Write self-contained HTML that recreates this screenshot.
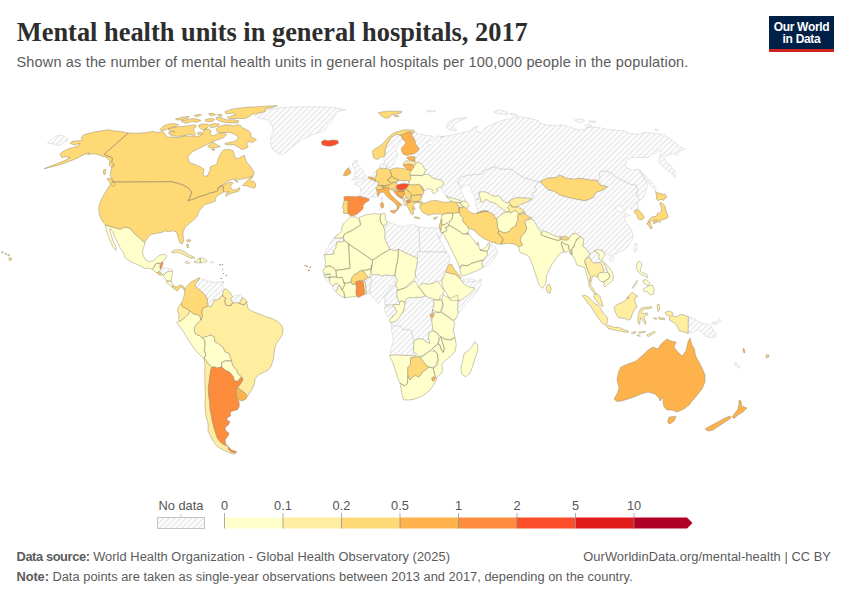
<!DOCTYPE html>
<html><head><meta charset="utf-8">
<style>
html,body{margin:0;padding:0;background:#fff;}
body{width:850px;height:600px;position:relative;overflow:hidden;font-family:"Liberation Sans",sans-serif;}
#title{position:absolute;left:16.8px;top:16.5px;font-family:"Liberation Serif",serif;font-weight:bold;font-size:26.4px;color:#2d2d2d;white-space:nowrap;line-height:30px;letter-spacing:0px;}
#sub{position:absolute;left:16.5px;top:52.7px;font-size:14.5px;letter-spacing:0.165px;color:#5b5b5b;white-space:nowrap;line-height:18px;}
#logo{position:absolute;left:769px;top:16px;width:65px;height:33px;background:#002147;border-bottom:3px solid #ce261e;color:#fff;font-weight:bold;font-size:12px;line-height:12px;text-align:center;letter-spacing:-0.3px;}
#logo div{padding-top:5px;}
.ft{position:absolute;font-size:12.85px;color:#5b5b5b;white-space:nowrap;line-height:16px;}
.ft b{font-weight:bold;}
svg{position:absolute;left:0;top:0;}
</style></head><body>
<div id="title">Mental health units in general hospitals, 2017</div>
<div id="sub">Shown as the number of mental health units in general hospitals per 100,000 people in the population.</div>
<div id="logo"><div>Our World<br>in Data</div></div>
<svg width="850" height="600" viewBox="0 0 850 600">
<defs>
<pattern id="hatch" patternUnits="userSpaceOnUse" width="4" height="4" patternTransform="rotate(45)"><rect width="4" height="4" fill="#fff"/><line x1="2" y1="-1" x2="2" y2="5" stroke="#dcdcdc" stroke-width="1"/></pattern>
</defs>
<g id="map">
<path d="M255,115.8L260,112.5L270,109.2L283.3,107.5L300,106.7L320,106.7L333.3,107.5L345.8,109.7L336.7,111.7L334.2,116.7L331.7,121.7L328.3,125L325,129.2L321.7,131.7L316.7,133.3L310,135.8L303.3,139.2L296.7,143.3L291.7,147.5L286.7,151.7L281.7,155L276.7,152.5L272.5,149.2L270.3,143.3L270.8,137.5L273.3,131.7L272.5,126.7L270,121.7L265.8,119.2L258.3,118.3ZM161.3,268.3L163.3,268L166.7,268L170,268.7L172.7,270.7L170.7,271.3L168,271.7L166,273L164.3,274.7L163,275.3L162.3,274.3L161.3,273.3L160,272.3L158.7,272L160,270.3ZM210,261.7L213.7,261.7L213.3,263L210.3,263ZM199.7,278L198.3,280.8L195.8,283.3L195,285.8L197.5,288.3L200.8,290.8L205,295L207.5,299.2L207.2,303.3L208.3,305.8L210.8,307L213,303.3L214.2,300L216.7,300L220,298.3L222.5,295L223.3,290.8L225,288.7L222.5,285.8L223.3,282.5L220,281.7L214.2,282.5L208.3,281.3L203.3,279.2ZM232.5,296.7L230.8,299.2L232.5,302.5L233.3,303.3L235.8,302.5L239.2,303.3L240.8,300.8L242.5,297.5L240.8,295.3L235.8,295ZM348.3,167.9L350,167.5L351.2,169.2L350.4,170.8L348.8,170ZM352.5,165L353.3,161.7L355.8,160L357.9,160.8L357.1,163.3L357.9,165L360.4,167.5L362.1,170L363.8,172.5L365,174.2L365.8,176.2L364.6,177.5L362.5,178.2L360,178.8L356.7,179.6L353.8,180L351.7,179.3L354.6,177.5L356.2,176.7L353.3,176.2L355.4,174.2L354.6,172.1L355.8,170.8L354.2,168.3L352.9,166.7ZM367.9,177.3L366.7,178.8L364.2,180L362.1,179.6L361.2,181.2L358.8,181.7L355.8,182.5L353.8,183.8L356.2,185L358.8,185.8L360.4,187.9L360.8,190.8L360,194.2L359.6,196.2L362.5,197.1L365.8,197.9L368.8,198.8L370.4,197.1L373.3,196.7L375.8,197.5L377.9,196.2L377.1,194.2L377.5,192.1L376.7,190L375.8,188.8L377.1,187.1L378.3,185.4L377.9,183.8L379.2,182.1L377.1,181.5L375,180.8L373.3,180L371.2,179.8L369.2,178.3ZM381.2,197.9L382.5,197.5L382.7,200.8L381.7,202.1L381,200.4ZM372.1,177.5L372.5,175.4L373.8,172.9L375.8,172.1L377.1,172.9L376.2,175.8L375.4,178.3L375.4,180.4L373.8,178.3ZM379.2,168.8L379.6,165.8L380.8,164.2L382.9,162.9L383.8,165L382.9,167.5L380.8,167.9ZM385,166.2L387.5,165.8L387.9,167.5L385.8,167.9ZM394.2,182.5L397.1,181.7L398.3,180L401.7,180.4L405,180.8L407.5,180.4L408.8,182.1L408.8,184.6L406.2,183.8L403.3,183.8L400.8,184L398.3,184.6L397.5,185L396.7,183.3ZM385,148.8L386.2,146.7L387.1,144.2L388.8,141.7L390,138.8L391.7,137.1L394.2,135.8L396.7,134.2L398.3,134.6L400.8,135.4L402.5,138.8L401.7,140.8L400.4,142.9L398.3,145L397.1,147.5L395.8,150.4L397.1,152.9L397.9,155.4L396.7,158.3L394.6,161.2L393.3,164.6L390.8,167.1L387.9,168.3L386.2,166.7L384.6,163.3L383.8,160L383.8,157.1L385,155L385.4,152.1ZM406.2,197.9L407.9,198.3L408.8,199.8L406.7,200.4L405.8,199.3ZM426.5,110.8L435.3,110.6L434.7,111.8L427.6,111.8ZM334.2,237.9L343.3,237.9L343.8,239.6L343.3,241.7L336.7,242.1L335.8,248.3L333.8,250L333.8,254.2L324.2,254.8L325.8,250.8L328.3,246.7L330.8,241.7L332.9,239.2ZM385.8,225L387.5,221.7L391.7,223.3L398.3,225.8L405,226.7L408.3,225L413.3,224.7L418.3,226.7L419.2,231.7L420,251.7L417.5,251.7L417.5,258.3L408.3,254.2L398.3,249.2L395,250.8L390,249.2L389.2,247.5L386.7,243.3L384.7,238.3L385,231.7L383.3,225.8ZM418.3,226.7L425,228L431.7,227.5L436.7,228.3L439.2,228L441.7,235L440,239.2L438,235L439.2,239.2L441.7,243.3L444.2,247.5L446.7,251.7L445,252L420,251.7L419.2,231.7ZM420,251.7L445,252L446.7,251.7L449.2,255.8L450,260L448.3,265L445.8,271.7L443.3,276.7L441.7,281.7L439.2,280L436.7,284.2L431.7,283.3L428.3,285L425,283.3L421.7,284.2L418.3,281.7L415.8,276.7L415,271.7L416.7,266.7L417.5,258.3L417.5,251.7ZM323.8,274.2L325.8,274L330.8,273.8L330.8,274.8L325.8,275L323.8,275ZM325,277.3L327.9,277.5L330.4,277.7L329.6,279.6L327.5,280.4L325.4,279.2ZM332.5,286.2L333.8,284.6L335.4,283.3L337.9,283.8L338.3,286.2L337.5,289.2L335.8,291.7L333.8,290L332.5,288.3ZM364.2,280.8L366.7,278.8L367.9,277.1L370,277.5L371.7,279.2L370.8,283.3L370,288.3L369.6,293.3L366.7,293.8L366.2,292.9L365.8,288.3L365.4,283.3ZM370.8,276.7L372.5,275L376.7,274.2L381.7,275.8L386.7,275L391.7,275.8L395,275L395.8,285L394.2,285L390.8,288.3L386.7,293.3L383.8,296.7L382.5,297.9L378.3,303.3L375,299.2L371.7,296.7L369.2,293.3L370,286.7L371.7,280.8ZM395.8,285L397.5,282.5L398.8,285L397.5,290L396.7,294.2L397.5,298.3L399.2,301.7L399.6,304.6L393.3,304.6L386.7,305L384.6,304.2L385,300.8L383.8,296.7L386.7,293.3L390.8,288.3L394.2,285ZM460,278.3L461.7,277L463.7,279.2L462.5,281.7L463.3,283.3ZM385.4,305L388.3,304.8L388.3,307.1L385.4,307.1ZM386.7,305L393.3,304.6L393.3,306.7L395,307.5L395.8,309.2L396.7,312.1L395,314.6L392.1,315.8L392.5,317.5L390,318.8L387.9,316.7L385.8,313.3L384.2,310L385,306.7ZM405.8,300L407.5,297.9L410,297.5L413.3,297.9L416.7,297.1L420,297.5L423.3,296.7L425,295.4L428.3,297.5L431.7,298.3L433.3,300.8L434.2,304.2L433.3,307.5L432.1,311.7L430.8,315L431.7,319.2L432.5,323.3L432.5,326.7L433.3,330.8L429.2,332.5L428.3,337.5L430,343.3L426.7,342.5L423.3,339.2L418.3,338.7L414.2,340.8L412.5,336.7L411.7,330.8L407.5,329.2L403.3,330L400,325.8L391.7,325.8L390.8,325L391.2,322.9L390.8,322.5L394.2,321.7L396.7,320.8L398.3,318.3L400.4,315.8L402.1,313.3L403.8,310L404.6,305.8L405,302.5ZM391.7,325.8L400,325.8L403.3,330L407.5,329.2L411.7,330.8L412.5,336.7L414.2,340.8L413.7,344.2L413.3,351.7L416.7,354.2L414.2,355.3L401.7,355L390,355L390.8,348.3L393.3,341.7L392.5,335L391.3,330ZM430.8,317.5L432.9,317.5L433.3,320L431.7,321.2ZM457.5,295L461.7,290.8L468.3,288.3L475,280L468.3,278.3L463.3,280.8L465.8,282.5L475,281.7L481.7,279.2L480.8,285L475,295L468.3,301.7L461.7,309.2L458.3,313.3L457.5,308.3L458.3,300ZM422.9,387.9L425.8,385L428.3,385.8L427.5,387.9L425,389.8ZM413.8,130.4L414.7,132.4L419.4,134.1L425.3,135.3L431.2,135.9L434.1,137.6L432.4,140.6L428.2,141.2L426.5,142.9L430,145.3L433.5,142.4L435.9,138.8L437.6,135.3L440.6,137.6L445.3,136.5L440,136.7L446.7,135.8L455,134.2L463.3,132.5L470,130.8L473.3,127.5L478.3,125.8L475.8,130.8L481.7,133.3L485,128.3L490,125L496.7,122.5L503.3,120L510,118.7L515,117.5L520,116.7L525,117.5L531.7,118.7L538.3,120.8L540,123.3L546.7,125L556.7,125.8L560,124.7L566.7,125.8L573.3,128.3L580,130L585,129.2L590,126.7L598.3,127.5L606.7,129.2L615,130.3L623.3,130.8L630,133.3L638.3,134.2L645,132.5L653.3,133.3L661.7,134.2L668.3,137.5L675,142.5L680,146.7L685.3,149.2L680,150.8L676.7,155.8L673.3,153.3L668.3,155L663.3,156.7L666.7,162.5L671.7,166.7L675,171.7L675,177.5L671.7,173.3L666.7,170L661.7,165L658.3,161.7L660,156.7L660.8,151.7L658.3,150L655.8,153.3L650.8,154.2L648.3,157.5L645,157.5L640,157.5L631.7,157.5L626.7,160L625,166.7L631.7,170L638.3,169.2L641.7,173.3L645,178.3L647.5,185L645.8,191.7L643.3,197.5L640,200.8L638.3,198.3L637.5,195.8L636.7,195.8L637.5,190L635.8,185L630,184.2L623.3,180.8L616.7,177.5L611.7,173.3L605,170.8L599.2,172.5L600,178.3L597.5,180.3L590,180L580,178.3L573.3,179.2L566.7,178.3L559.2,175L556.7,177.5L546.7,178.3L540,181.7L538.3,181.7L531.7,180L523.3,177.5L516.7,173.3L511.7,169.2L501.7,169.2L495,166.7L485,170L481.7,174.2L470,175L461.7,176.7L457.5,181.7L458.3,184.2L461.7,187.5L460.8,190.4L461.7,192.9L463.3,195.8L465,199.2L466.7,202.1L464.2,201.2L461.7,201.7L460,200.4L456.7,199.6L453.3,198.3L450,197.5L446.2,196.2L443.3,191.7L440.8,187.9L440.4,187.1L442.9,185.4L443.8,182.9L441.7,180.4L438.3,179.6L435,178.8L431.7,177.5L430,175L426.7,174.6L423.8,174.2L424.6,172.1L426.2,170.4L423.8,167.5L422.5,165L416,163.3L415,161.4L414.6,159.2L415,157.1L418.3,153.3L417.1,151.7L419.2,148.8L417.1,146.2L415.4,143.8L415,140.8L413.3,137.5L411.7,135L411.2,132.5L412.9,133.3L414.6,132.1ZM446.5,125.3L448.8,121.8L454.7,118.8L464.1,117.6L467.1,118.2L459.4,120.6L454.7,123.5L452.4,127.6L457.1,130.6L452.4,130.8L447.6,128.8ZM493.3,111.7L498.3,110L506.7,111.7L508.3,114.2L500,114.2L495,113ZM510,113.3L516.7,114.2L517.5,115.8L511.7,115.3ZM574.2,120L580,118.7L585,120L581.7,122.5L576.7,122ZM588.3,120.8L595.8,121.3L595.8,122.5L589.2,122.2ZM585,125L590,124.2L591.7,126.7L586.7,127.5ZM655,129.2L658.3,130L658,131L655.3,130.3ZM639.2,169.2L643.3,173.3L648.3,179.2L653.3,184.2L655.8,188.3L655,190L650.8,185.8L645.8,180L641.7,175ZM47.5,143.3L53.3,137.5L59.2,135L64.2,135.8L68.3,140L63.3,142.5L59.2,145.8L55,144.2L50.8,143.3ZM457.5,181.7L461.7,176.7L470,175L481.7,174.2L485,170L495,166.7L501.7,169.2L511.7,169.2L516.7,173.3L523.3,177.5L531.7,180L538.3,181.7L535,186.7L536.7,190L531.7,193.3L533.3,195.8L531.7,199.2L528.3,198.2L522.5,197.9L516.7,197.5L513.3,198.8L510.4,200L509.2,202.5L506.7,202.9L504.2,201.7L502.1,200L500.8,197.5L498.3,195.8L495,196.2L491.7,195.8L489.2,193.8L485.8,192.1L481.7,191.7L478.8,192.9L478.3,199.2L475.8,200L475,198.3L473.3,194.6L470.4,191.2L471.7,188.8L470.4,186.2L467.5,185L464.2,185.8L461.7,187.5L458.3,184.2ZM538.3,181.7L540,181.7L543.3,185L548.3,190L553.3,190.8L560,195L568.3,197.5L576.7,199.2L585,200.8L593.3,197.5L595.8,192.5L602.5,190L607.5,186.7L600,185L600,178.3L599.2,172.5L605,170.8L611.7,173.3L616.7,177.5L623.3,180.8L630,184.2L635.8,185L637.5,190L636.7,195.8L637.5,195.8L631.7,202.5L627.5,206.7L626.7,208.3L624.2,211.7L620,205L615,208.3L617.5,210.8L622.5,212.5L626.7,214.2L630,215.3L624.2,217.5L626.7,223.3L631.7,230L633.3,235L631.7,240.8L628.3,245.8L624.2,250L618.3,252.5L613.3,255L610,255.8L607.5,254.2L605,251.7L600,250L595.8,250.8L594.2,251.7L597.5,249.6L594.2,250.8L592.5,251.7L590.4,253.8L588.3,252.5L587.1,250L585,247.9L582.5,246.2L583.3,243.3L583.8,240L582.1,237.1L580,236.7L578.3,235L575.8,233.2L572.5,234.2L570,236.7L568.8,238.3L567.1,237.1L563.8,236.2L561.7,237.1L560.8,236.2L560,237.1L556.7,236.7L551.7,234.6L546.7,232.1L542.9,230.8L538.3,228.3L535,225L535.8,224.2L533.3,220L530.8,219.2L531.7,217.5L528.3,216.7L525,213.7L524.2,212L523.3,210L520,208.3L523.3,203.7L525.8,202.5L529.2,200.8L531.7,199.2L533.3,195.8L531.7,193.3L536.7,190L535,186.7ZM609.2,259.2L610.9,257.1L613.4,256.7L614.2,258.8L612.6,261.2L610.5,262.1ZM634.7,244.2L636.7,243.3L637,248.3L635.3,252.5L633.7,249.2ZM629.6,207.5L632.1,205.4L634.6,203.3L636.7,200.8L637.9,199.2L639.6,200L637.9,202.1L637.5,204.6L638.3,206.7L637.9,209.6L636.2,210L634.6,211.2L632.5,210L630.8,209.2ZM489.6,244.2L491.7,245L495,246.7L496.7,250L497.5,253.3L493.3,260L488.3,265L483.3,267.5L481.7,263.3L483.3,260L487.5,255L487.5,255L487.5,251.2L488.8,247.5ZM478.3,199.2L475.8,200L475,203.8L476.7,206.7L477.5,210L478.3,212.5L481.7,211.2L485,210.8L490,212.5L494.2,215L495,218.3L496.7,218.3L499.2,216.7L501.7,214.2L504.2,212.9L506.7,212.1L504.2,210.4L501.7,208.3L499.2,206.7L496.7,204.2L493.3,202.5L490,201.7L487.5,200L485,199.6L483.3,201.7L481.2,202.1L480.4,199.2L477.5,198.3ZM590.4,253.8L592.5,251.7L594.2,250.8L596.7,252.5L599.2,254.2L598.8,257.5L600.1,260L603,262.5L605.5,265.8L606.8,269.2L607.2,272.1L605.5,272.9L603.8,270.8L603,268.3L602.2,265.4L600.5,262.9L598,262.5L594.2,263.3L591.8,261.7L590.5,259.2L589.2,257.1L588.3,255.8ZM688.3,316.7L695,319.2L701.7,323.3L706.7,324.2L710,325L713.3,330L716.7,335L715,337.5L710,337.5L705,335.8L701.7,331.7L696.7,330L692.5,332.5L688,333.3ZM711.7,322.5L716.7,321.7L720,319.2L720.8,320.8L717.5,323.7L712.5,324.2ZM734,363L736,362L740,367L739,368.4L735.6,365.6ZM221.5,281.6L223.6,281.3L223.4,283L221.6,283.2Z" fill="url(#hatch)" stroke="#d2d2d2" stroke-width="0.55" stroke-linejoin="round"/>
<path d="M105.3,225L114.2,227.5L120,229.2L125,227L130,228.3L134.2,233.3L139.2,237.5L143.3,241.7L145,242L144.2,245.8L142.5,250.8L143.3,255.8L145.8,260L149.2,261.7L153.3,260.8L156.7,257.5L160,255L164.2,254.2L166.7,255.8L165,259.2L162.3,261.7L161,263L160,263.3L156.3,263.3L155,265L154,267.3L152.3,269.3L148.3,268L145,268.7L140,265.8L134.2,263.3L129.2,260.8L125,257.5L123.3,252.5L120,247.5L117.5,242.5L114.7,236.7L112.5,231.7L110.3,228.3L109.7,230.8L111.7,236.7L113.7,242.5L116.3,247.5L115.8,250.3L113.3,247.5L110.8,242.5L108.7,236.7L106.7,231.7ZM152.3,269.3L154,267.3L155,265L156.3,263.3L160,263.3L160,267.7L160.3,268.3L161.3,268.3L160,270.3L158.7,272L157,272.7L154.7,271.7ZM163,275.3L164.3,274.7L166,273L168,271.7L170.7,271.3L172.7,270.7L172.3,273.7L171.7,277L171,280.7L169.3,281.3L167,280.7L165.7,279L164.3,277.3ZM166,281L167,280.7L169.3,281.3L171,280.7L172,283L173,285.3L172.7,287.7L171.3,286.3L169.7,285L167.7,284L166.3,282.7ZM185,262L186.3,261.3L188.7,261.7L189.7,263L188,263.7L186,263.3ZM193.8,261.7L196.7,261.2L197.9,258.8L200,258.3L200.4,262.9L198.8,262.7L195.8,262.7ZM200,258.3L202.5,257.9L205,259.3L207.3,261.2L205.8,262.3L203.3,262.1L201.7,262.9L200.4,262.9ZM180,321.3L181.7,320L185,317.5L188.3,314.2L190,310.8L193.3,313.7L197.5,314.7L200.3,316.7L200.8,320L197.5,323.3L195,326.7L194.2,330.8L195.8,334.2L200,335.8L201.7,337.5L204.7,340L205,345L204.2,350L205.8,355L204.2,358.3L201.7,356.7L196.7,351.7L191.7,345L187.5,338.3L183.3,331.7L179.2,325.8L176.7,322.5L178.3,320.8ZM201.7,337.5L205.8,336.7L208.3,335.8L210.8,335L214.2,336.7L215,341.7L219.2,344.2L223.3,347.5L225,351.7L229.2,353.3L230.8,358.3L231.7,360.8L225,360.8L221.7,362.5L221.7,367L216.7,368L214.2,366.7L211.7,367.5L210,365L207.5,363.3L205.8,360L204.2,358.3L205.8,355L204.2,350L205,345L204.7,340L201.7,337.5ZM221.7,367L221.7,362.5L225,360.8L231.7,360.8L232.5,365L236.7,370L238.3,374.2L241.7,376.7L243,379.2L240.8,377.5L237.5,381.3L234.2,380.8L233.3,376.7L230,372.5L225,370L221.7,367ZM391.7,189.2L394.2,188.8L396.7,187.9L397.5,188.8L395.8,190L393.8,190.8L391.7,190.4ZM413.3,165L415.4,162.9L418.8,162.1L422.5,165L423.8,167.5L426.2,170.4L424.6,172.1L423.8,174.2L422.5,175.8L419.2,175.4L415.8,175.2L412.9,175.4L410.8,175L409.6,173.3L409.2,170.8L411.7,169.2L413.8,167.1ZM410.8,175L412.9,175.4L415.8,175.2L419.2,175.4L422.5,175.8L423.8,174.2L426.7,174.6L430,175L431.7,177.5L435,178.8L438.3,179.6L441.7,180.4L443.8,182.9L442.9,185.4L440.4,187.1L437.5,188.3L435.8,189.2L438.3,190.4L436.7,191.7L433.8,193.8L431.7,191.7L432.9,190L430.8,189.2L428.3,188.8L426.2,189.2L425,190.8L423.3,189.6L422.5,187.1L420.8,185.4L418.8,184.3L416.7,184.6L414.2,185L411.7,185L409.6,184.6L408.8,182.1L408.8,180.4L409.6,177.5ZM420.8,185.4L422.5,187.1L423.3,189.6L424.2,190.4L422.9,190.8L421.7,188.8L420,186.2ZM403.8,200.4L405,199.6L405.8,200.8L406.2,203.3L405.4,205.8L404.2,205L403.8,202.5ZM446.2,196.2L450,197.5L453.3,198.3L456.7,199.6L460,200.4L461.7,201.7L460,202.9L457.5,202.5L455.8,202.9L453.3,202.1L450.8,200.8L448.3,198.8ZM455.8,202.9L457.5,202.5L460,202.9L461.7,205L462.9,207.1L461.7,207.9L459.6,206.7L457.9,205.4L456.7,204.2ZM460,202.9L461.7,201.7L464.2,201.2L466.7,202.1L468.3,204.2L469.2,206.2L467.5,206.7L466.7,208.8L465.4,207.9L464.2,206.7L462.9,207.1L461.7,205ZM459.6,207.1L461.7,208.3L461.2,209.2L459.3,208.2ZM350,216.7L352.5,217.1L355.4,216.7L358.3,218.3L359.6,221.2L360.4,224.6L357.5,226.7L355,228.8L351.7,231.2L348.3,232.5L345,233.8L343.3,235.4L343.3,237.9L334.2,237.9L335.8,235.8L339.2,233.8L341.7,230.8L341.7,227.5L343.8,223.3L346.7,220.8L349.2,218.3ZM359.2,217.5L365,215L373.3,213.7L380.8,214.2L380,218.3L380.8,222.5L383.3,225.8L385,231.7L384.7,238.3L386.7,243.3L389.2,247.5L390,249.2L381.7,254.2L373.3,259.7L370.8,259.2L366.7,255.8L360,251.7L350,245L344.2,240.8L343.3,238.3L344.2,235L346.7,232.5L351.7,230L356.7,227.5L360.8,225L360,220.8ZM380.8,214.2L384.2,213L385.8,215.8L385,219.2L387.5,221.7L385.8,225L383.3,225.8L380.8,222.5L380,218.3ZM398.3,249.2L408.3,254.2L417.5,258.3L416.7,266.7L415,271.7L415.8,276.7L413.3,280.8L408.3,284.2L405,288.3L400.8,289.2L397.5,290L395.8,285L397.5,280L395,275L395.8,268.3L397.5,261.7L398.3,255ZM373.3,259.7L381.7,254.2L390,249.2L395,250.8L398.3,249.2L398.3,255L397.5,261.7L395.8,268.3L395,275L391.7,275.8L386.7,275L381.7,275.8L376.7,274.2L372.5,275L370.8,270.8L371.7,265L370,277.5L367.9,277.1L365.4,274.2L363.3,271.2L363.3,270.4L366.7,270L371.2,268.8L372.1,265L372.5,260.4ZM324.2,254.8L333.8,254.2L333.8,250L335.8,248.3L336.7,242.1L343.3,241.7L343.8,239.2L348.8,243.8L348.8,248.3L349.2,255L350,268.3L335.8,270.4L334.2,268.8L331.7,266.7L328.3,265.8L325.4,267.5L325,265L325.4,261.7L325,258.3ZM348.8,243.8L360,251.7L371.7,260L372.5,260.4L372.1,265L371.2,268.8L366.7,270L363.3,270.4L360.8,270L357.5,272.9L354.2,274.6L352.1,277.5L351,281.7L349.2,282.5L346.7,283.3L343.8,282.5L342.9,279.2L341.7,277.1L338.8,277.9L336.7,277.1L336.2,274.2L335.8,270.4L350,268.3L349.2,255L348.8,248.3ZM325.4,267.5L328.3,265.8L331.7,266.7L334.2,268.8L335.8,270.4L336.2,274.2L336.7,277.1L334.2,276.8L330.8,277.1L327.9,277.5L325,277.3L323.8,275L325.8,275L330.8,274.8L330.8,273.8L325.8,274L323.3,272.9L322.9,270.8L324.2,268.8ZM327.9,277.5L330.8,277.1L334.2,276.8L336.7,277.1L338.8,277.9L341.7,277.1L342.9,279.2L343.8,282.5L344.6,284.6L343.3,287.9L342.1,290L340.8,287.5L339.6,285.4L337.9,283.8L335.4,283.3L333.8,284.6L332.5,286.2L330.8,284.2L329.2,281.7L329.6,279.6L330.4,277.7ZM335.8,291.7L337.5,289.2L338.3,286.2L339.6,285.4L340.8,287.5L342.1,290L343.8,291.7L344.6,296.7L345,297.9L342.5,297.1L339.6,295L337.1,292.9ZM343.8,282.5L346.7,283.3L349.2,282.5L351,281.7L352.1,284.2L355.8,283.8L356.5,287.5L356,291.7L356.7,296.2L353.3,296.7L349.2,297.1L345,297.9L344.6,296.7L343.8,291.7L342.1,290L343.3,287.9L344.6,284.6ZM397.9,290.4L403.3,288.3L407.5,286.7L411.7,283.3L415,280.8L416.7,283.3L418.3,286.7L421.7,290.8L425,295.4L423.3,296.7L420,297.5L416.7,297.1L413.3,297.9L410,297.5L407.5,297.9L405.8,300L405,302.5L401.7,300.8L399.6,302.1L399.2,301.7L397.5,298.3L396.7,294.2L397.5,290ZM418.3,286.7L420,285L423.3,283.3L428.3,284.2L433.3,283.3L436.7,281.2L439.2,282.5L440.8,285.8L444.2,290.8L442.5,294.2L440,296.7L440,299.6L436.7,300L434.2,299.6L431.7,298.3L428.3,297.5L425,295.4L421.7,290.8ZM441.7,281.7L443.3,276.7L445.8,271.7L450,273.3L455,274.2L460,278.3L463.3,283.3L468.3,286.7L475,288.3L468.3,295L461.7,300L455,300.8L450,300L446.7,293.3L443.3,288.3ZM399.6,302.1L401.7,300.8L405,302.5L404.6,305.8L403.8,310L402.1,313.3L400.4,315.8L398.3,318.3L396.7,320.8L394.2,321.7L390.8,322.5L389.2,321.2L390,318.8L392.5,317.5L392.1,315.8L395,314.6L396.7,312.1L395.8,309.2L395,307.5L393.3,306.7L393.3,304.6L399.6,304.6ZM414.2,340.8L418.3,338.7L423.3,339.2L426.7,342.5L430,343.3L428.3,337.5L429.2,332.5L433.3,330.8L437.5,333.3L439.2,338.3L437.5,344.2L432.5,348.3L428.3,351.7L423.3,355.8L419.2,356.7L416.7,354.2L413.3,351.7L413.7,344.2ZM432.5,310L433.3,315L431.7,320L432.5,326.7L433.3,330.8L437.5,333.3L440.8,336.7L445,339.2L450,340L455,337.5L453.3,330L455,323.3L452.5,320L446.7,315.8L441.7,312.5L436.7,311.7ZM434.2,299.6L436.7,300L440,299.6L442.1,300.8L442.5,305L441.2,309.2L440,312.5L436.7,312.5L433.3,312.9L432.1,311.7L433.3,307.5L434.2,304.2L433.3,300.8ZM441.7,299.2L443.3,295L450,298.3L457.5,295L458.3,300L457.5,308.3L458.3,313.3L455,320L452.5,320L446.7,315.8L441.7,312.5L441.7,310.8L443.3,305ZM445,339.2L450,340L455,337.5L456.3,345L455,351.7L450,356.7L445,360.8L441.7,364.2L442.5,369.2L441.7,373.3L437.5,376.7L435.8,378.3L434.2,373.3L433.3,368.3L437.5,365L438.3,360L437.5,354.2L432.5,348.3L437.5,344.2L438.3,344.2L440,345L441.3,350L443.3,352.5L444.2,348.3L442.5,342.5L440.8,336.7ZM439.2,338.3L440.8,336.7L442.5,342.5L444.2,348.3L443.3,352.5L441.3,350L440,345L438.3,344.2ZM420,357.1L422.5,355.8L426.7,353.3L430,350.8L435,351.2L437.5,354.2L437.9,359.2L436.7,363.3L435,366.2L432.9,367.9L428.8,367.1L425.8,365L424.2,362.5L422.1,360ZM389.6,355.4L395.8,355L405,355.4L412.5,355.8L415.4,355.4L416.2,356.7L410.8,357.9L410.4,365L407.9,367.5L407.9,375L407.5,383.3L405,385.8L402.5,384.6L400,383.3L397.5,377.5L395,369.2L392.5,361.7L390.4,357.9ZM400,383.3L402.5,384.6L405,385.8L407.5,383.3L407.9,375L408.8,377.5L410,380L413.3,376.7L415.4,375L418.3,377.1L420.4,375.4L422.5,372.1L425.8,369.6L428.8,367.1L432.9,367.9L434.2,370.8L435,375L435.8,377.5L436.7,379.2L435,382.5L432.5,386.7L429.2,390.8L425,394.2L420,397.1L414.2,399.2L408.3,400L403.3,399.8L402.1,395L401.2,389.2ZM475,341.7L477.5,345L478,350L475,358.3L472.5,366.7L470,373.3L465.8,376.7L461.7,374.2L460.8,368.3L462.5,361.7L464.2,353.3L468.3,350.8L472.5,345.8ZM441.7,215L445,213.8L449.2,213.3L452.9,212.9L452.5,215.8L452.1,218.8L450,221.2L446.7,223.3L444.2,225L442.1,224.6L441.7,221.7L441.2,218.3ZM442.1,224.6L444.2,225L446.7,223.3L448.8,224.6L447.9,226.7L445.4,227.5L446.7,229.6L445,231.7L441.7,232.9L440.8,230.8L441.2,227.5L441.7,225ZM452.9,212.9L455.8,212.5L458.8,212.1L460,214.2L461.7,216.7L463.3,218.3L462.5,220.4L464.2,222.9L466.7,225.4L468.3,227.9L469.2,230.8L467.5,232.5L465.8,234.2L462.5,233.8L460,231.7L456.7,229.6L453.3,227.5L450,225.8L448.8,224.6L450,221.2L452.1,218.8L452.5,215.8ZM465.8,234.2L467.5,232.5L469.2,233.8L468.3,235L467.5,233.3ZM441.7,232.9L445,231.7L446.7,229.6L445.4,227.5L447.9,226.7L448.8,224.6L450,225.8L453.3,227.5L456.7,229.6L460,231.7L462.5,233.8L465.8,234.2L467.5,233.3L469.6,235L471.7,237.5L474.2,240.8L475.8,243.8L478.3,245L479.2,247.5L480,250L483.3,250.8L486.7,251.2L487.5,255L487.5,255L483.3,260L476.7,261.7L471.7,263.3L467.5,265.8L461.7,265L460,268.3L458.3,264.2L455.8,258.3L452.5,252.5L450,246.7L446.7,240L444.2,235ZM477.1,242.5L478.3,242.1L478.8,244.6L477.5,245ZM480,250L483.3,249.2L486.7,245.8L488.8,242.5L489.6,244.2L488.8,247.5L487.5,251.2L483.3,250.8ZM460,268.3L461.7,265L467.5,265.8L471.7,263.3L476.7,261.7L483.3,260L481.7,263.3L483.3,267.5L476.7,270.8L470,273.3L464.2,275.8L460.8,275ZM478.8,192.9L481.7,191.7L485.8,192.1L489.2,193.8L491.7,195.8L495,196.2L498.3,195.8L500.8,197.5L502.1,200L504.2,201.7L506.7,202.9L509.2,202.5L510.4,204.2L508.8,206.2L507.5,207.5L509.2,209.2L508.8,211.7L506.7,212.1L504.2,210.4L501.7,208.3L499.2,206.7L496.7,204.2L493.3,202.5L490,201.7L487.5,200L485,199.6L483.3,201.7L481.2,202.1L480.4,199.2L479.6,195.8ZM496.7,218.3L499.2,216.7L501.7,214.2L504.2,212.9L506.7,212.1L508.8,211.7L510.4,212.9L512.5,211.7L515,210L517.1,212.5L519.2,213.8L521.7,212.5L524.2,212.1L525,213.8L521.7,214.2L518.3,214.6L517.5,217.5L518.3,220L516.7,222.5L515.8,225.8L511.7,228.3L509.2,231.7L504.2,233L499.2,230.8L497.5,227.5ZM526.7,220L530.8,219.2L533.3,220L535.8,224.2L538.3,228.3L541.7,232.5L541.2,234.6L543.3,235.8L548.3,237.5L553.3,239.2L557.5,240.4L560.4,240L560.4,237.1L560.8,236.2L561.7,237.1L561.8,239.2L564.2,240L567.9,239.8L568.8,238.3L570,236.7L572.5,234.2L575.8,233.2L578.3,235L580,236.7L578.3,238.8L576.7,239.2L575.8,241.7L574.6,244.2L574.2,246.7L572.5,247.5L571.7,250L572.1,253.3L571.7,255L570.4,251.7L569.6,249.2L568.3,248.3L569.2,245.8L567.5,244.6L565.4,244.2L563.8,243.3L561.7,241.7L561.2,244.2L562.5,247.1L563.3,250L564.6,252.1L562.5,252.5L560,253.3L557.5,256.7L555,260L552.5,263.3L550,268.3L546.7,275L545.8,283.3L542.5,288.3L539.2,285L535.8,275L532.5,265L529.2,256.7L525,254.2L520,252.5L518.3,246.7L522.5,245L520,240L521.7,235.8L525,232.5L526.7,227.5L525,223.3ZM540.8,232.9L542.9,230.8L546.7,232.1L551.7,234.6L556.7,236.7L560,237.1L560.4,240L557.5,240.4L553.3,239.2L548.3,237.5L543.3,235.8L541.2,234.6ZM561.7,241.7L563.8,243.3L565.4,244.2L567.5,244.6L569.2,245.8L568.3,248.3L569.6,249.2L570.4,251.7L570.8,254.2L569.6,252.1L568.3,250.4L566.7,252.1L564.6,252.1L563.3,250L562.5,247.1L561.2,244.2ZM580,236.7L582.1,237.1L583.8,240L583.3,243.3L582.5,246.2L585,247.9L587.1,250L588.3,252.5L590.4,253.8L588.3,255.8L586.7,257.5L585,260L585.4,262.5L586.2,265L584.7,262.1L585.9,264.2L586.8,267.5L588,270.8L589.2,273.8L590.5,276.2L590.1,279.2L589.2,282.5L588,280L587.2,275.8L585.9,271.7L584.7,267.5L576.7,265L575.8,261.7L574.2,258.3L572.1,255L571.7,255L572.1,253.3L571.7,250L572.5,247.5L574.2,246.7L574.6,244.2L575.8,241.7L576.7,239.2L578.3,238.8ZM597.6,274.6L599.7,272.9L602.2,272.5L605.5,272.9L607.2,272.1L609.2,273.8L609.7,276.7L608,279.2L605.5,280.8L603,282.1L600.5,281.2L598.8,279.2L597.6,277.1ZM594.2,250.8L597.5,249.6L600.8,250L603.3,251.7L605.5,255L603,257.5L602.2,259.6L604.7,262.5L607.6,265.8L610.5,269.2L612.6,272.9L613.4,276.7L613,280L610.5,282.5L607.6,284.6L605.1,287.1L603.8,285.8L604.7,283.3L603,282.1L605.5,280.8L608,279.2L609.7,276.7L609.2,273.8L607.2,272.1L606.8,269.2L605.5,265.8L603,262.5L600.1,260L598.8,257.5L599.2,254.2L596.7,252.5ZM637.6,262.1L639.7,261.2L641.3,262.9L641.8,265.8L640.5,268.3L640.1,270.8L642.2,272.9L644.7,273.3L647.2,275L648,277.5L645.9,277.1L643.8,275.4L641.3,275L639.2,272.9L637.6,270.4L636.3,267.5L636.8,264.6ZM643.3,280L646.7,280L650,283.3L648.3,285.8L645.8,284.2L643.3,282.5ZM643.3,289.2L648.3,285.8L652.5,285L654.2,289.2L653.3,294.2L650,295L647.5,291.7L644.2,291.7ZM632.2,287.5L636.3,281.2L637.6,280.4L637.6,281.7L633.4,288.3Z" fill="#ffffcc" stroke="#8c8470" stroke-width="0.45" stroke-linejoin="round"/>
<path d="M171.3,252L175,250L180,249.7L185,252L189.2,255L193.3,256.7L195,258.3L190,258L185.8,255.8L181.7,253.7L177.5,252.5L173.3,253ZM225,288.7L223.3,290.8L222.5,295L223.3,296.7L225.8,298.3L224.7,301.7L225.8,305L228.3,305.8L231.3,305.3L232.5,302.5L230.8,299.2L232.5,296.7L230.8,293.3L227.5,290ZM242.5,297.5L240.8,300.8L239.2,303.3L241.7,304.2L244.2,305L246.7,301.7L245,299.2ZM181.3,303.3L182.5,306.7L186.7,308.7L190,310.8L188.3,314.2L185,317.5L181.7,320L180,321.3L178.3,318.3L179.2,315L177.5,311.7L178,307.5ZM200.8,320L202.5,316.7L201.7,313.3L202.5,308.3L208.3,305.8L210.8,307L213,303.3L214.2,300L216.7,300L220,298.3L222.5,295L223.3,296.7L225.8,298.3L224.7,301.7L225.8,305L228.3,305.8L231.3,305.3L232.5,302.5L233.3,303.3L235.8,302.5L239.2,303.3L241.7,304.2L244.2,305L246.7,301.7L247.5,305.8L248.3,309.2L253.3,311.7L260,314.2L265.8,316.7L271.7,318.3L276.7,320.8L280.8,324.2L283,328.3L282.5,334.2L280,338.3L276.7,343.3L274.7,348.3L274.2,353.3L273.3,360L270.8,366.7L268.3,370L265,371.7L258.3,375L255,379.2L254.2,384.2L251.7,390L248.3,395L247.5,395.8L244.2,392.5L240.8,390L237.5,387.5L240.8,383.3L243,379.2L241.7,376.7L238.3,374.2L236.7,370L232.5,365L231.7,360.8L230.8,358.3L229.2,353.3L225,351.7L223.3,347.5L219.2,344.2L215,341.7L214.2,336.7L210.8,335L208.3,335.8L205.8,336.7L201.7,337.5L200,335.8L195.8,334.2L194.2,330.8L195,326.7L197.5,323.3L200.8,320ZM204.2,358.3L205.8,360L207.5,363.3L210,365L211.7,367.5L210.8,370L210,375L209.2,381.7L208.3,388.3L208.7,395L209.7,401.7L210,408.3L211.3,415L212.5,421.7L214.2,428.3L215.8,433.3L217.5,438.3L220.8,442.5L224.2,444.7L227.5,445.8L228.3,446.7L228.3,449.2L230.8,451.7L235.8,453L234.2,454.2L230,453.3L225,450.8L220,448.3L215.8,445L212.5,440L210,435L208,430.8L208.3,425L207.5,421.7L205.8,415L205,405L205.3,395L205,385L204.7,375L205,365ZM403.3,163.3L404.6,161.7L406.7,160.8L408.3,161.2L410,160.4L412.5,161L415,161.4L416,163.3L415.4,165L412.5,164.6L410,164.2L407.5,164L405,164.6L403.3,165ZM402.1,198.3L403.3,197.1L404.6,197.9L405,199.6L403.8,200.4L402.7,199.6ZM362.5,281.2L364.2,280.8L365.4,283.3L365.8,288.3L366.2,292.9L366.7,293.8L364.6,294.2L364.2,291.7L363.8,288.3L363.3,283.8ZM507.5,207.5L508.8,206.2L510.4,204.2L511.7,206.7L515,207.1L518.3,206.7L520,208.3L523.3,210L524.2,212.1L521.7,212.5L519.2,213.8L517.1,212.5L515,210L512.5,211.7L510.4,212.9L509.6,210.8L509.2,209.2ZM510.4,200L513.3,198.8L516.7,197.5L522.5,197.9L528.3,198.2L531.7,199.2L529.2,200.8L525.8,202.5L523.3,203.8L520,204.6L518.3,206.7L515,207.1L511.7,206.7L510.4,204.2L509.2,202.5ZM546.7,285.8L549.2,284.2L551.3,288.3L550,293.3L547.5,292.5L546.3,289.2ZM585.1,260L586.8,257.9L589.2,257.1L590.5,259.2L591.8,261.7L594.2,263.3L598,262.5L600.5,262.9L602.2,265.4L603,268.3L603.8,270.8L602.2,272.5L599.7,272.9L597.6,274.6L597.6,277.1L595.5,276.7L593.8,275.4L592.6,276.2L591.8,279.2L590.9,282.5L590.5,285L591.8,286.7L593,288.3L594.7,291.7L596.3,293.8L595.1,294.2L593.4,292.5L591.8,290L590.1,287.9L588.8,285.8L589.2,282.5L590.1,279.2L590.5,276.2L589.2,273.8L588,270.8L586.8,267.5L585.9,264.2L584.7,262.1ZM593.4,295.8L595.1,294.2L598,294.2L600.1,296.7L601.3,300L602.2,303.3L603.4,305.8L602.2,306.7L600.1,305L597.6,302.5L595.5,299.6L594.2,297.5ZM582.2,295.8L585.5,295.4L588,296.7L590.5,299.2L593,301.7L595.5,304.2L598,305L600.1,307.5L601.8,310.4L603.8,313.8L606.3,316.2L607.6,318.3L607.2,321.7L606.8,324.6L604.7,325L602.2,322.9L599.7,320L597.2,316.7L595.1,313.3L593,310L590.9,306.7L588,303.3L585.9,300L583.8,297.5ZM605.9,326.2L608,325.4L611.3,326.2L614.7,327.5L618,327.1L621.3,328.3L624.7,330L628.4,331.2L628,332.5L624.7,332.1L621.3,331.2L618,330.8L614.7,330L611.3,329.2L608,328.3ZM614.2,307.5L615.9,305.4L618.8,303.8L621.8,302.5L624.7,300.8L627.2,297.9L629.7,295L631.3,292.9L632.6,292.1L634.2,294.2L637.2,295.4L637.6,296.7L635.5,297.5L634.7,300L635.5,303.3L637.2,307.1L635.5,308.3L633.8,310.8L632.2,314.2L631.3,317.5L630.1,319.6L628,320L625.5,318.8L623,318.3L620.5,317.9L618,317.5L616.8,315L615.1,311.7ZM638,316.7L639.2,311.7L640.5,308.8L643,307.5L648,307.1L651.3,306.7L651.8,307.9L648,308.8L644.7,309.2L642.2,310.4L641.3,312.9L643.8,313.8L647.2,312.9L648,314.6L645.5,315.4L643.8,316.7L645.1,320L646.3,323.3L645.5,324.6L643.8,322.5L642.2,319.2L640.5,317.5L640.1,320.8L639.7,324.2L638.4,323.8L638,320ZM657,305L659.2,304.2L659.7,309.2L658,311.7ZM631.3,332.9L633.8,331.7L635.9,331.7L635.5,332.9L632.6,333.8ZM638.4,332.1L641.3,331.7L645.5,331L645.1,332.1L642.2,332.9L639.2,333.2ZM636.8,335L638.8,334.8L640.5,336.2L638.4,336.2ZM646.7,335L654.2,331.3L655.3,332.5L648.3,336.7ZM653.3,318L656.7,318.3L656.3,319.7ZM658.3,317.5L664.2,318L664.7,319.7L659.2,319.2ZM665,312.5L669.2,310.8L673.3,313.3L671.7,315.8L676.7,316.7L680.8,314.2L688.3,316.7L688,333.3L683.3,331.7L679.2,330.8L676.7,325L672.5,321.7L669.2,320L670,316.7L666.7,315ZM222.1,269.32L222.9,269.32L222.9,269.88L222.1,269.88ZM222.9,273.32L223.7,273.32L223.7,273.88L222.9,273.88Z" fill="#ffeda0" stroke="#8c8470" stroke-width="0.45" stroke-linejoin="round"/>
<path d="M128.3,133L120,131.3L113.3,130.8L107.5,129.7L101.7,130.8L95.8,131.7L89.2,133.3L83.3,135L81.3,137.5L82.5,140L78.3,140.8L72.5,141.3L70,143.3L74.2,145L80,143.3L78.3,145.8L73.3,147.5L67.5,149.2L62.5,151.7L60,154.2L61.7,157.5L65.8,156.7L70,157.5L65.8,160L60,162.5L53.3,165L44.2,168.7L52.5,166.7L60,164.7L67.5,162L75,159.2L80,156.7L85,154.2L89.2,152.5L87.5,154.7L93.3,153.7L96.7,154.2L100.8,155.8L105,156.7L107,158.3L109.7,160.8L109.2,165L111.7,167.5L114.2,165L111.7,162.5L112.5,158.3L110,156.7L106.7,155.8L104.2,154.2ZM112.5,182L171.7,181.7L176.7,183L183.3,185L188.3,188L191.7,192.2L190,197.5L187.8,200.7L193.3,199.2L199.2,196.7L205,195L211.7,192.5L212.8,192.5L216.3,191.5L218.1,190.1L217.7,188.3L220.2,186.2L222.3,185.8L223.3,186.9L223.2,189.7L223.9,191.8L221.9,193.2L219.1,194.6L217,196.1L215.6,198.2L214.9,200.3L215.6,201L213.5,201.7L211.4,202.8L207.8,203.8L205,204.5L202,207.5L198.7,211.7L198,214.7L196.7,217L193.3,220.3L188.3,224.3L185,227.7L183,231.7L183,235L183.7,240L182.5,243.7L179.7,242.7L178.3,238.3L177.3,233.7L176,231.7L173.3,230.8L168.3,231.7L165,230.8L161.7,232.5L156.7,233.3L151.7,234.2L148.3,236.7L145.8,240.8L145,242L143.3,241.7L139.2,237.5L134.2,233.3L130,228.3L125,227L120,229.2L114.2,227.5L105.3,225L103.3,222.5L100.8,218.3L99.2,213.3L98.7,207.5L100.3,201.7L103.3,195.8L106.7,190L110,185ZM128.3,133L136.7,133.3L146.7,132.5L153.3,131.3L156.7,132.5L163.3,131.7L164.9,134L167.4,137.1L173.6,137.1L178.5,137.7L184.7,135.8L190.9,136.4L195.8,135.8L198.9,137.1L200.8,135.2L203.2,133.4L203.9,129.6L208.8,129L211.3,130.9L210,133.4L211.9,135.2L214.4,135.8L216.2,134L218.7,133.4L224.2,133.1L226.7,134.6L224.2,137.1L220.5,138.9L216.8,140.1L213.1,141.4L209.4,143.2L205.7,145.1L200.8,147.6L192.5,151.7L188,156.7L189.2,162.5L194.2,164.2L200,166.7L204.2,169.2L203,173.3L204.2,176.3L207.5,175.8L209.7,170.8L210.3,166.7L216.7,164.2L218.3,158.3L220.8,153.3L223.3,150L228.3,149.2L233.3,150.8L235,157.5L238.3,158.7L244.2,155L246.3,161.7L250,165.8L254,172.1L253.7,174.9L251.6,176.3L248.8,177.4L245.2,178.4L241.7,179.1L238.2,179.5L234.6,179.1L231.8,179.5L229,180.5L226.2,182.3L223.3,184.4L220.5,186.2L218.4,187.6L218.8,188.6L221.6,186.2L224.1,184.8L226.9,183.3L229.7,182.3L232.2,182.3L232.9,183.3L231.5,184.8L230.4,186.5L231.1,188.3L232.5,189.7L234.6,190.1L236.8,189.3L238.2,188.3L239.6,187.6L239.7,190.1L238.2,191.3L235.3,192.2L232.5,192.9L229.7,193.9L227.6,195.3L226.2,196.4L225.5,195.3L226.9,193.2L229.3,192.2L229,191.5L226.2,192.2L223.9,191.8L223.2,189.7L223.3,186.9L222.3,185.8L220.2,186.2L217.7,188.3L218.1,190.1L216.3,191.5L212.8,192.5L211.7,192.5L205,195L199.2,196.7L193.3,199.2L187.8,200.7L190,197.5L191.7,192.2L188.3,188L183.3,185L176.7,183L171.7,181.7L112.5,182L111.7,178.3L110.3,175.8L110.8,171.7L111.7,167.5L114.2,165L111.7,162.5L112.5,158.3L110,156.7L106.7,155.8L104.2,154.2ZM242.4,185.5L244.5,183.3L246.6,181.2L248.8,178.8L251.6,176.3L253,176.3L251.6,178.4L250.2,180.2L251.9,181.6L253.7,181.2L255.1,183L255.8,185.5L254.8,187.9L253.3,188.3L252.3,186.9L250.2,187.6L249.1,186.5L246.6,185.8L244.5,185.8ZM234.3,180L236.1,180.4L238.2,181.6L237.8,182.3L235.7,181.4ZM107,178.7L110,178L113.3,180.8L115,184.2L113.3,186.7L110,183.3ZM103.3,170L105.8,169.2L105.3,174.2L103.7,174.2ZM157,272.7L158.7,272L160,272.3L161.3,273.3L162.3,274.3L161.7,275.3L159.7,275L158,274.3ZM173,285.3L174.3,286.3L176.3,287L178,286.3L180,285L182,285.3L183.7,286.7L184.7,288.3L185,290.3L183.7,289.7L183,288.3L181.3,287.3L179.7,288L178.3,289.7L177.3,291.3L176,289.7L174,288.7L172.7,287.7ZM186.3,240L190.3,239.7L190.8,241.3L187.5,241.7ZM186.7,244.2L188.3,244.2L188.7,247.5L187,247.5ZM224.9,111.7L229.2,109.9L236.6,108.4L246.5,107.2L256.4,106.8L265,106.2L277.4,105.8L271.2,107.7L265,108.9L265,111.7L258.8,113L252.6,114.2L248.9,116.7L245.2,118.5L240.3,118.5L234.1,118.5L229.2,118.5L227.3,117.3L231.6,116.1L235.4,114.8L232.9,113L227.9,113.8L225.5,113.3ZM216.2,117.3L221.8,117.9L226.7,119.8L234.1,119.8L239.1,121L237.8,122.9L231.6,122.9L224.2,122.2L219.3,121L216.2,119.1ZM208.8,113.6L213.1,113.3L215.6,114.8L211.9,115.8L209.2,114.8ZM217.4,114.6L221.1,114.2L222.4,116.1L218.7,116.3ZM175.4,119.1L181.6,117.3L189,116.3L187.8,118.3L182.2,119.8L177.3,120ZM194,115.4L199.5,114.2L201.4,115.1L196.4,116.7ZM181,121L186.6,119.8L192.1,118.5L197.1,119.1L200.8,120.4L197.1,122.2L190.9,121.6L186.6,123.2L182.9,122.2ZM205.1,119.8L209.4,118.5L214.4,119.1L213.1,121.2L208.8,122L205.7,121.2ZM160,129.6L163.7,125.9L168.6,124.1L174.8,123.5L178.5,124.7L176.1,126.6L171.1,127.4L166.2,129.6L161.9,130.9ZM168,129L172.4,127.8L179.8,126.6L186.6,125.9L192.1,125.3L195.2,124.7L196.4,126.6L193.4,128.4L194,131.5L195.8,133.4L193.4,135.2L188.4,134.6L183.5,135.8L178.5,136.4L173.6,135.8L169.3,134.6L168.6,132.1L174.8,131.5L169.3,130.6ZM198.3,125.3L202.6,124.1L207.6,124.1L208.8,125.9L206.3,129L202.6,129.6L199.5,127.8ZM209.4,124.7L214.4,123.5L219.3,124.1L218.1,125.9L214.4,127.2L210.6,127.8ZM197.7,132.7L200.8,131.9L202.6,133.4L200.1,135.2L197.7,134.6ZM216.2,129L218.7,126.6L223,125.3L226.7,124.7L231.6,125.3L234.1,125.9L236.6,124.7L240.3,125.3L241.5,127.2L245.2,129L248.9,130.9L251.4,134L250.2,136.4L253.9,138.3L256.4,139.5L252.6,142.6L248.3,141.4L246.5,143.9L248.3,146.9L245.2,148.8L241.5,149.4L239.1,147.6L236.6,146.3L234.1,144.5L230.4,145.1L225.5,144.5L224.9,143.2L229.2,142.6L234.1,141.4L237.2,139.5L238.4,137.1L236,135.2L232.9,133.4L229.2,132.4L224.2,132.4L220.5,132.7L217.4,131.9L216.2,130.3ZM207.6,146.3L213.1,142L216.2,144.5L220.5,146.7L215.6,147.6L210.6,148.2ZM211.9,148.8L215,149.2L214.4,150.4L212.1,150ZM185,290.3L186,287.7L188.7,284.3L191.3,281.7L195.3,280L198,278L199.7,278L198.3,280.8L195.8,283.3L195,285.8L197.5,288.3L200.8,290.8L205,295L207.5,299.2L207.2,303.3L208.3,305.8L202.5,308.3L201.7,313.3L202.5,316.7L200.8,320L200.3,316.7L197.5,314.7L193.3,313.7L190,310.8L186.7,308.7L182.5,306.7L181.3,303.3L183.3,299.2L184.2,295L184.7,291.7ZM375.8,172.1L377.1,170L379.2,168.8L380.8,167.9L383.3,168.8L385.4,168.3L388.3,169.2L390,170L390.8,172.9L391.7,175.8L390.4,177.5L388.3,178.8L387.5,180.4L389.6,182.1L390.8,183.8L389.2,185L386.7,185.4L384.2,185.8L381.7,185.4L379.2,185.4L378.3,185.4L377.9,183.8L379.2,182.1L377.1,181.5L375,181.2L375.4,180.4L375.4,178.3L376.2,175.8L377.1,172.9ZM390,170L393.3,168.3L397.5,167.9L401.7,168.3L405.8,169.2L409.2,169.6L411.7,170.8L409.6,172.9L410,175.4L411,178.3L409.6,180.8L408.8,182.1L407.5,180.4L405,180.8L401.7,180.4L398.3,180L395.8,178.8L393.3,177.5L391.7,175.8L390.8,172.9ZM388.3,178.8L390.4,177.5L391.7,175.8L393.3,177.5L395.8,178.8L398.3,180L397.1,181.7L394.2,182.5L392.1,182.9L389.6,182.1L387.5,180.4ZM381.7,185.4L384.2,185.8L386.7,185.4L389.2,185L390.8,183.8L392.1,182.9L394.2,182.5L396.7,183.3L397.5,185L396.2,186.7L396.7,187.9L394.2,188.8L391.7,189.2L389.2,188.3L386.7,187.5L384.2,187.1L382.1,187.1ZM375.8,188.8L377.1,187.1L378.3,185.4L379.2,185.4L381.7,185.4L382.1,187.1L384.2,187.1L383.8,188.8L381.7,189.2L380,190L377.9,189.6L376.7,190ZM344.2,200L346.7,200.4L349.2,200.8L347.9,203.3L348.3,205.8L347.9,208.8L348.3,211.2L347.9,213.3L345,213.8L343.3,212.9L343.8,210L342.5,207.5L343.3,204.2L343.8,201.7ZM372.5,150.8L375,148.8L378.3,147.1L381.7,144.6L384.6,141.7L387.5,138.3L390,135.8L393.3,133.3L397.5,131.7L401.7,130.4L405.8,129.8L410,130L413.8,130.4L414.6,132.1L412.9,133.3L411.7,132.5L409.2,132.1L407.1,132.5L405,133.8L402.9,134.6L400.8,135.4L398.3,134.6L396.7,134.2L394.2,135.8L391.7,137.1L390,138.8L388.8,141.7L387.1,144.2L386.2,146.7L385,148.8L385.4,152.1L385,155L383.8,157.1L381.2,156.7L379.2,158.8L376.2,159.3L373.8,157.9L372.9,155ZM408.8,184.6L411.7,185L414.2,185L416.7,184.6L418.8,184.3L420,186.2L421.7,188.8L422.9,190.8L424.2,191.7L423.3,193.8L422.1,195L419.2,194.6L416.2,195L413.3,195.4L411.2,194.2L409.6,192.5L407.5,190L406.2,188.3L407.5,186.7ZM411.2,195.4L413.3,195.7L416.2,195.2L419.2,194.8L422.1,195.2L421.7,197.5L420.8,199.6L418.8,200.8L416.2,201.7L413.8,201.7L411.7,200.8L410.8,198.3ZM403.3,190L405.4,189.6L407.5,190L409.6,192.5L411.2,194.2L411.2,195.4L410.8,198.3L409.6,200L407.9,198.3L406.2,197.9L405,195.4L403.8,193.3L402.9,191.7ZM406.2,203.3L408.3,202.9L410.4,202.1L412.9,201.7L415.8,201.8L418.3,201.2L419.2,202.5L416.7,202.9L414.2,203.3L412.9,205L414.6,207.5L415,209.6L413.8,210L412.1,207.5L412.9,210.8L413.8,212.9L412.9,214.6L411.2,213.8L410,211.7L408.8,209.2L407.5,206.7L406.7,205ZM414,217.1L415.8,216.8L418.3,217.3L419.8,217.9L419.6,218.8L417.1,218.5L415,218.2ZM419.2,201.7L421.7,201.2L422.9,202.9L420.8,203.8L419.6,203.3ZM420,205L423.3,203.3L426.7,202.5L430,201.2L434.2,200.4L438.3,200.8L442.5,202.1L446.7,202.3L450.8,201.7L455,202.1L457.5,204.2L458.3,206.7L459.2,210L459.8,212.1L456.7,212.7L453.3,213.2L450,212.9L446.7,213.2L443.3,213.8L441.7,215L440.4,213.8L438.3,214L435.8,213.8L433.3,214.2L430.8,214.6L428.3,215.4L426.7,214.6L424.2,213.3L422.1,211.7L420.8,209.6L419.6,207.1ZM433.2,218.3L435,217.5L437.5,216.8L436.7,218.3L435,219.3L433.8,219.2ZM378.2,112.7L382.9,111.8L388.8,111.2L394.7,111.2L401.8,111.4L401.2,112.9L396.5,113.9L391.8,114.7L389.4,117.6L385.9,118.2L382.4,116.5L380,114.7ZM394.1,115.3L398.8,115.5L398.2,116.7L394.7,116.5ZM351,281.7L352.1,277.5L354.2,274.6L357.5,272.9L360.8,270.8L363.3,271.2L365.4,274.2L367.9,277.1L366.7,278.8L364.2,280L361.7,280.8L359.2,281L356.2,281.5L355.8,283.8L352.1,284.2ZM445.8,271.7L448.3,265L451.7,264.2L454.2,269.2L458.3,274.2L460.8,277.5L460,278.3L455,274.2L450,273.3ZM410.8,357.9L416.2,356.7L420,357.1L422.1,360L424.2,362.5L425.8,365L428.8,367.1L425.8,369.6L422.5,372.1L420.4,375.4L418.3,377.1L415.4,375L413.3,376.7L410,380L408.8,377.5L407.9,375L407.9,367.5L410.4,365ZM540,181.7L546.7,178.3L556.7,177.5L559.2,175L566.7,178.3L573.3,179.2L580,178.3L590,180L597.5,180.3L600,185L607.5,186.7L602.5,190L595.8,192.5L593.3,197.5L585,200.8L576.7,199.2L568.3,197.5L560,195L553.3,190.8L548.3,190L543.3,185ZM634.6,211.2L636.2,210L637.9,209.6L640,211.2L642.1,213.8L643.8,216.2L643.8,218.3L642.1,219.6L639.6,220L637.9,218.3L637.1,215.8L636.2,213.8L635,213.3ZM655.4,191.2L657.1,192.5L659.2,193.3L661.7,193.8L663.8,194.6L665,194.2L666.7,196.2L666.2,197.9L664.6,198.3L663.8,200.4L661.7,199.6L660,199.2L658.8,200.8L657.5,200L656.2,198.3L656.7,196.7L656.2,194.2ZM660,202.5L662.1,202.9L664.2,205L665.4,207.1L665.8,210L666.7,212.9L667.9,215.4L668.3,217.1L666.7,218.3L664.6,219.2L662.5,219.6L660.8,220.8L660,222.5L658.3,221.7L657.9,220L656.2,220.4L654.2,220L652.1,220.4L650.4,221.7L648.8,222.5L647.9,221.7L649.6,219.2L651.2,217.5L653.3,216.7L655.8,216.5L657.1,215L657.5,212.9L659.2,213.3L660.8,211.7L661.7,209.2L661.2,206.7L660,204.6ZM652.9,221.7L655,220.8L657.1,221L656.7,222.5L655,222.9L654.2,224.2L653.2,223.3ZM646.7,223.3L648.8,222.1L650.4,222.9L650.8,225L652.1,226.7L652.1,228.3L650.4,228.8L649.2,226.2L647.9,225ZM440.8,219.6L442.1,219.2L442.1,221.7L441.2,222.9L440.4,222.5ZM440,222.9L441.2,222.9L441.7,225L441.2,227.5L440.8,230.8L440,229.2L439.2,227.1ZM458.8,212.1L458.8,208.3L461.7,207.9L464.2,206.7L465.4,207.9L466.7,208.8L468.3,210.8L471.7,212.9L475,213.8L478.3,212.5L483.3,210.8L488.3,211.2L476.7,213.3L481.7,211.2L485,210.8L490,212.5L494.2,215L495,218.3L496.7,218.3L497.5,227.5L499.2,230.8L497.5,232.5L500,235.8L503.3,239.2L501.7,242.5L500.8,244.2L495,243.3L495,241.7L491.7,242.9L489.2,240.8L486.7,240L483.3,238.3L480,235.8L476.7,233.3L474.2,230L471.7,229.2L469.2,228.3L468.3,227.9L466.7,225.4L464.2,222.9L462.5,220.4L463.3,218.3L461.7,216.7L460,214.2ZM518.3,214.6L521.7,214.2L525,213.8L528.3,216.7L531.7,217.5L529.2,219.2L525.8,219.6L524.2,221.7L525,223.3L526.7,227.5L525,232.5L521.7,235.8L520,240L522.5,245L518.3,246.7L515,244.2L508.3,243.3L500.8,244.2L501.7,242.5L503.3,239.2L500,235.8L497.5,232.5L499.2,230.8L504.2,233L509.2,231.7L511.7,228.3L515.8,225.8L516.7,222.5L518.3,220L517.5,217.5ZM561.7,237.1L563.8,236.2L567.1,237.1L568.8,238.3L567.9,239.8L564.2,240L561.8,239.2ZM766,355L768.4,354.4L769,357L766.4,358ZM9,257.8L10.6,257.4L12,258.8L10.8,260.4L9.3,260.6ZM7.8,254.64L9.4,254.64L9.4,255.76L7.8,255.76ZM4.9,253.41L6.3,253.41L6.3,254.39L4.9,254.39ZM1.7,251.81L3.1,251.81L3.1,252.79L1.7,252.79Z" fill="#fed976" stroke="#8c8470" stroke-width="0.45" stroke-linejoin="round"/>
<path d="M237.5,387.5L240.8,390L244.2,392.5L247.5,395.8L245.8,399.2L242.5,400.8L239.2,400.3L237.5,399.2L235.8,395L235.8,390L237.5,387.5ZM343.3,175.4L344.6,172.5L346.2,170L348.3,167.9L348.8,170L350.4,170.8L350.8,172.5L349.6,174.2L347.5,175.2L345,175.8ZM367.9,177.3L369.6,176.7L372.1,177.5L373.8,178.3L375.4,180.4L375,181.2L373.3,180L371.2,179.8L369.2,178.3ZM377.9,196.2L377.1,194.2L377.5,192.1L376.7,190L377.9,189.6L380,190L381.7,189.2L383.8,188.8L384.2,187.1L386.7,187.5L389.2,188.3L390,189.6L388.8,190.8L389.6,192.5L390.8,194.6L393.3,197.1L395.8,199.6L398.3,201.7L400.8,203.8L402.1,205.4L400.4,205.8L398.8,204.6L399.6,206.7L398.3,209.2L397.5,210.4L396.7,208.3L397.5,206.7L395.8,204.2L393.8,202.1L391.2,200L388.8,198.3L386.7,196.2L385,193.8L383.3,192.1L380.8,192.5L379.2,193.8L378.8,195.4ZM390,210.8L393.3,210.4L396.7,210L395.8,212.1L394.2,213.3L391.7,212.5ZM380.4,203.3L382.9,202.5L383.8,205L383.3,207.5L381.7,208.3L380.7,206.2ZM393.8,190.8L395.8,190L397.5,188.8L399.6,190L402.1,190L403.3,189.6L404.2,191.2L401.7,191.7L399.2,191.2L397.5,191.7L396.7,192.9L398.3,194.6L400.4,196.7L402.5,198.3L401.7,198.8L398.3,196.7L395.8,194.6L394.2,192.5ZM397.5,191.7L399.2,191.2L401.7,191.7L404.2,191.2L404.6,193.3L403.8,195.4L402.5,197.5L400.4,196.7L398.3,194.6L396.7,192.9ZM400.8,135.4L402.9,134.6L405,133.8L407.1,132.5L409.2,132.1L411.2,132.5L411.7,135L413.3,137.5L415,140.8L415.4,143.8L417.1,146.2L419.2,148.8L417.1,151.7L414.2,153.8L410.4,154.6L406.7,155.4L403.3,154.2L402.1,152.1L401.2,149.2L402.5,146.7L404.6,144.6L405.8,142.5L404.2,140.8L402.9,139.2L402.5,138.8ZM406.7,157.5L409.2,156.7L412.5,156.5L415,157.1L414.6,159.2L415,161.2L412.5,160.8L410,160L407.9,159.2ZM403.3,165.4L405,164.8L407.5,164.2L410,164.3L412.5,164.8L413.8,166.2L413.3,168.3L411.7,170L409.2,170.4L406.7,168.8L404.6,167.1ZM430.4,314.2L433.3,313.3L434.2,315.4L432.5,317.1L430.4,317.1ZM431.7,378.3L432.9,376.7L434.6,377.1L435,379.6L433.8,381.2L432.1,380.4ZM627.2,297.5L628.4,296.7L628.8,297.9L627.8,298.8ZM614,399L617,394L619,388L617,379L619,371L621,367L628,364L636,361L643,355L648,350L653,347L658,349L661,344L667,339L671,341L676,342L674,347L677,351L682,356L686,351L688,342L690,338L692,345L694.4,349L695.6,356L699,362L702,368L705,375L705,382L702,389L698,394L694,399L689,405L684,409L677,412L672,410L667,410L664,407L663,402L664,397L660,401L659,398L655,394L648,392L641,394L634,397L628,399L621,401L617,401.6ZM669,417L676,416.4L674,421L670,424L667.6,422.4ZM739,400L741,401L741.6,406L747,408L743,412L738,415L734,418.4L732,417L735,413L738,409L739,404ZM730,416L731,418L725,422L719,426L713,430L708,431L705,429L710,426L717,422.4L724,418.4ZM743,348.4L744.4,349L744.8,353L743.6,352.4Z" fill="#feb24c" stroke="#8c8470" stroke-width="0.45" stroke-linejoin="round"/>
<path d="M160,267.7L161,263L162.3,261.7L163,263L162.3,265.7L161.3,268L160.3,268.3ZM211.7,367.5L214.2,366.7L216.7,368L221.7,367L225,370L230,372.5L233.3,376.7L234.2,380.8L237.5,381.3L240.8,377.5L243,379.2L240.8,383.3L237.5,387.5L235.8,390L235.8,395L237.5,399.2L239.2,402.5L239.2,406.7L237.5,409.7L233.3,410.8L230,412.5L230.8,415.8L227.5,417.5L226.7,420L230,421.7L228.3,425L225,427.5L225.8,430.8L229.2,433.3L227.5,436.7L225,440L225.8,444.2L227.5,445.8L224.2,444.7L220.8,442.5L217.5,438.3L215.8,433.3L214.2,428.3L212.5,421.7L211.3,415L210,408.3L209.7,401.7L208.7,395L208.3,388.3L209.2,381.7L210,375L210.8,370L211.7,367.5ZM228.3,446.7L231.7,450L236.7,451.7L235.8,453L230.8,451.7L228.3,449.2ZM343.8,197.1L346.7,196.2L350.8,196.5L355.8,196.7L359.6,196.2L362.5,197.1L365.8,197.9L368.8,198.8L369.2,200.4L366.7,202.1L364.2,203.8L362.9,206.2L363.3,208.3L361.2,210.4L359.2,212.5L356.7,214.2L353.3,215.8L350,215.4L347.9,213.3L348.3,211.2L347.9,208.8L348.3,205.8L347.9,203.3L349.2,200.8L346.7,200.4L344.2,200ZM406.7,200.4L408.8,199.8L410.8,200.4L410.4,202.1L408.3,202.9L406.7,202.5ZM356.2,281.5L359.2,281L362.5,281.2L363.3,283.8L363.8,288.3L364.2,291.7L364.6,294.2L361.7,295.8L358.3,297.5L356.7,296.2L356,291.7L356.5,287.5L355.8,283.8ZM222.2,264.32L223,264.32L223,264.88L222.2,264.88ZM225.9,275.05L226.9,275.05L226.9,275.75L225.9,275.75ZM220.8,278.05L221.8,278.05L221.8,278.75L220.8,278.75Z" fill="#fd8d3c" stroke="#8c8470" stroke-width="0.45" stroke-linejoin="round"/>
<path d="M321.3,141.7L324.2,140L328.3,140.8L332.5,140L337.5,140.3L338.7,143L335,145L330,146.3L325,145.8L322,144.7ZM396.7,187.9L396.2,186.7L397.5,185L398.3,184.6L400.8,184L403.3,183.8L406.2,183.8L408.8,184.6L407.5,186.7L406.2,188.3L404.6,189.6L402.1,190L399.6,190L397.5,188.8ZM304.8,265.15L305.8,265.15L305.8,265.85L304.8,265.85ZM306.7,265.95L307.7,265.95L307.7,266.65L306.7,266.65ZM309.8,266.85L310.8,266.85L310.8,267.55L309.8,267.55ZM308.2,269.88L309.4,269.88L309.4,270.72L308.2,270.72ZM219.7,264.45L220.7,264.45L220.7,265.15L219.7,265.15Z" fill="#fc4e2a" stroke="#8c8470" stroke-width="0.45" stroke-linejoin="round"/>
</g>
<g id="legend" font-family="Liberation Sans, sans-serif" font-size="12.8" fill="#555">
<rect x="157.5" y="517.5" width="47" height="11" fill="url(#hatch)" stroke="#c4c4c4" stroke-width="1"/>
<line x1="181" y1="514" x2="181" y2="517" stroke="#c4c4c4"/>
<text x="181" y="510" text-anchor="middle">No data</text>
<rect x="224.5" y="517.5" width="58.5" height="11" fill="#ffffcc"/>
<rect x="283" y="517.5" width="58.5" height="11" fill="#ffeda0"/>
<rect x="341.5" y="517.5" width="58.5" height="11" fill="#fed976"/>
<rect x="400" y="517.5" width="58.5" height="11" fill="#feb24c"/>
<rect x="458.5" y="517.5" width="58.5" height="11" fill="#fd8d3c"/>
<rect x="517" y="517.5" width="58.5" height="11" fill="#fc4e2a"/>
<rect x="575.5" y="517.5" width="58.5" height="11" fill="#e31a1c"/>
<path d="M634,517.5H687L692.5,523L687,528.5H634Z" fill="#b10026"/>
<g stroke="#8a8a8a" stroke-width="1" opacity="0.7">
<line x1="224.5" y1="513" x2="224.5" y2="528.5"/><line x1="283" y1="513" x2="283" y2="528.5"/><line x1="341.5" y1="513" x2="341.5" y2="528.5"/><line x1="400" y1="513" x2="400" y2="528.5"/><line x1="458.5" y1="513" x2="458.5" y2="528.5"/><line x1="517" y1="513" x2="517" y2="528.5"/><line x1="575.5" y1="513" x2="575.5" y2="528.5"/><line x1="634" y1="513" x2="634" y2="528.5"/>
</g>
<g text-anchor="middle">
<text x="224.5" y="510">0</text><text x="283" y="510">0.1</text><text x="341.5" y="510">0.2</text><text x="400" y="510">0.5</text><text x="458.5" y="510">1</text><text x="517" y="510">2</text><text x="575.5" y="510">5</text><text x="634" y="510">10</text>
</g>
</g>
</svg>
<div class="ft" style="left:16.5px;top:549px;letter-spacing:0.05px"><b style="letter-spacing:-0.4px">Data source:</b> World Health Organization - Global Health Observatory (2025)</div>
<div class="ft" style="right:19px;top:549px;letter-spacing:0.065px">OurWorldinData.org/mental-health | CC BY</div>
<div class="ft" style="left:16.5px;top:569.3px;letter-spacing:0.02px"><b style="letter-spacing:-0.1px">Note:</b> Data points are taken as single-year observations between 2013 and 2017, depending on the country.</div>
</body></html>
